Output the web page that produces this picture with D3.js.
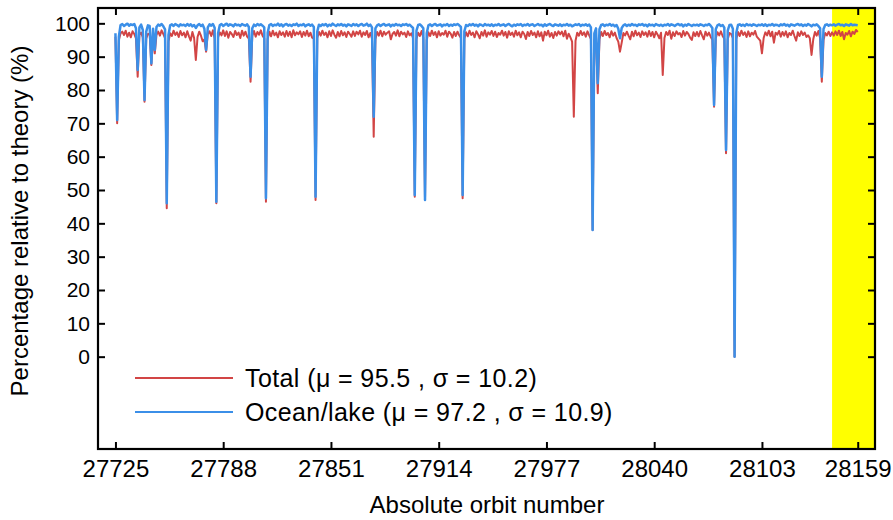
<!DOCTYPE html>
<html>
<head>
<meta charset="utf-8">
<script src="https://cdn.jsdelivr.net/npm/d3@7"></script>
<style>
  html, body { margin: 0; padding: 0; background: #fff; }
  svg { display: block; font-family: "Liberation Sans", Arial, Helvetica, sans-serif; }
</style>
</head>
<body>
<svg id="chart" width="893" height="520"></svg>
<script>
// ---------- data ----------
const orbitStart = 27725;
const xTickValues = [27725, 27788, 27851, 27914, 27977, 28040, 28103, 28159];
const yTickValues = [0, 10, 20, 30, 40, 50, 60, 70, 80, 90, 100];
const highlightStart = 28144;
const seriesNames = ["Total (\u03bc = 95.5 , \u03c3 = 10.2)", "Ocean/lake (\u03bc = 97.2 , \u03c3 = 10.9)"];

const totalValues = [
  96, 70, 95, 97, 97.5, 96.5, 97.8, 96, 97.2, 95.8, 97.6, 96.8, 95.5, 84, 96.5, 97.2, 95.8, 76.5, 95.5, 96.8,
  96.9, 87.5, 96.2, 91, 96.6, 97.5, 96.3, 97.9, 96.8, 95.6, 44.5, 94.5, 97, 96.2, 97.8, 96.5, 97.3, 95.9, 97.7, 96.4,
  97.2, 95.8, 97.6, 96.1, 94.8, 97.4, 95.6, 89, 95.9, 97.5, 96.3, 94.6, 95.2, 91.5, 96.8, 97.6, 96.2, 97.9, 95.4, 46,
  95.8, 97.3, 96.4, 97.9, 96.2, 97.6, 95.7, 97.4, 96.8, 95.9, 97.7, 96.5, 97.2, 95.6, 97.8, 96.3, 97.5, 96, 95.4, 82.5,
  96.2, 97.7, 96, 97.4, 96.6, 97.9, 96.3, 95.5, 46.5, 95.2, 97.5, 96.1, 97.8, 96.4, 97.2, 95.8, 97.6, 96.5, 97.3, 96,
  97.7, 96.2, 97.5, 95.8, 97.9, 96.4, 97.3, 96.7, 97.6, 95.9, 97.4, 96.3, 97.8, 96.1, 97.2, 95.7, 95.4, 47, 95.6, 97.4,
  96.3, 97.8, 96.5, 97.2, 95.8, 97.6, 96.2, 97.9, 96.6, 95.7, 97.4, 96.1, 97.7, 96.4, 97.3, 95.9, 97.5, 96.8, 96, 97.6,
  96.2, 97.5, 96.7, 97.8, 96, 97.3, 96.5, 97.7, 95.8, 97.1, 95.5, 66, 95.2, 97.4, 96.3, 97.8, 96.1, 97.5, 96.6, 97.2,
  97.6, 95.2, 96.8, 97.4, 96.3, 97.9, 96.1, 97.5, 96.7, 97.2, 95.9, 97.6, 96.4, 97, 95.6, 48, 95.3, 97.2, 96.2, 97.7,
  95.7, 47, 95, 97.3, 96.2, 97.8, 96.5, 97.4, 95.8, 97.6, 96.3, 97.1, 96.6, 97.8, 96, 97.5, 96.9, 95.7, 97.4, 96.2,
  97.5, 96.4, 95.6, 47.5, 95.4, 97.3, 96.1, 97.8, 96.5, 97.2, 95.8, 97.6, 96.7, 95.5, 97.4, 96.3, 97.9, 96, 97.3, 96.6,
  97.7, 96.2, 97.5, 95.9, 97.1, 96.6, 97.8, 96.3, 97.4, 95.7, 97.6, 96.5, 97.2, 96, 97.8, 96.4, 97.3, 95.8, 97.5, 96.8,
  95.3, 97.4, 96.2, 97.7, 96.5, 97.2, 95.8, 97.6, 96.1, 97.3, 94.8, 97.5, 96.4, 97.8, 96, 97.1, 95.6, 97.4, 96.3, 97.6,
  96.7, 97.5, 96.1, 97.8, 95.4, 96.9, 95.8, 94.5, 72, 94.8, 97.2, 96.3, 97.7, 96.5, 97.3, 96, 97.6, 96.4, 95.3, 38,
  95, 96, 79, 95.2, 97.4, 96.2, 97.7, 96.5, 97.1, 95.8, 97.6, 96.3, 97.2, 95.6, 94.5, 91.5, 94.2, 97.1, 96.4, 97.5,
  96.3, 95.2, 97.5, 96.1, 97.8, 96.4, 97.2, 95.9, 97.6, 96.5, 97.3, 96, 97.7, 96.2, 97.4, 95.8, 97.5, 96.6, 95.5, 97.2,
  84.5, 95.6, 97.4, 96.5, 97.8, 95.4, 97.3, 96.2, 97.6, 96.7, 97.1, 95.9, 97.7, 96.3, 97.4, 96.8, 95.7, 95, 97.3, 96.2,
  97.4, 96.1, 97.7, 96.4, 95.2, 97.5, 96.3, 97.2, 96, 95.1, 75, 95.5, 97.3, 96.4, 97.6, 96.2, 95.4, 61, 95.2, 97.1,
  96.8, 95.6, 0, 95.3, 97.4, 96.2, 97.8, 96.5, 97.3, 95.9, 97.6, 96.1, 97.2, 96.6, 97.7, 96, 95.4, 94.8, 91, 95.6,
  97.3, 96.4, 97.8, 96.1, 97.5, 94.2, 97.2, 96.6, 97.7, 96, 97.4, 96.3, 97.6, 95.8, 97.1, 96.5, 97.8, 96.2, 94.8, 97.3,
  96.2, 97.6, 96.5, 97.2, 95.9, 96.4, 95.5, 90.5, 95.2, 97.4, 96.3, 97.7, 95.6, 82.5, 95, 97.1, 96.4, 97.5, 96.2, 97.3,
  96.3, 97.6, 96.5, 97.8, 96.2, 97.4, 95.2, 97.1, 96.6, 97.7, 96.1, 97.5, 96.8, 98, 97.4
];

const oceanValues = [
  97, 71, 96, 99.5, 99.8, 99.2, 99.6, 99.9, 99.3, 99.7, 99.5, 99.8, 98.5, 86, 98.8, 99.6, 98, 77, 97.5, 99.4,
  99.2, 88, 98.4, 92, 98.9, 99.6, 99.3, 99.8, 99.1, 98.2, 46, 96.5, 99.4, 99.7, 99.2, 99.8, 99.5, 99.1, 99.7, 99.4,
  99.6, 99.2, 99.8, 99.3, 99.7, 99.1, 99.5, 98.6, 99.4, 99.8, 99.2, 99.6, 98.4, 92, 98.8, 99.7, 99.3, 99.8, 98.7, 46.5,
  97, 99.4, 99.8, 99.2, 99.6, 99.9, 99.3, 99.7, 99.5, 99.1, 99.8, 99.4, 99.6, 99.2, 99.8, 99.5, 99.3, 99.7, 98.9, 84,
  98.5, 99.6, 99.2, 99.8, 99.4, 99.7, 99.3, 98.8, 47.5, 97.2, 99.5, 99.8, 99.2, 99.6, 99.4, 99.9, 99.3, 99.7, 99.1, 99.6,
  99.8, 99.3, 99.6, 99.2, 99.7, 99.5, 99.9, 99.2, 99.6, 99.4, 99.8, 99.1, 99.5, 99.7, 99.3, 99.6, 98.9, 48, 97.5, 99.6,
  99.2, 99.7, 99.4, 99.8, 99.1, 99.6, 99.3, 99.9, 99.5, 99.2, 99.7, 99.4, 99.8, 99.3, 99.6, 99.1, 99.7, 99.5, 99.2, 99.8,
  99.4, 99.7, 99.2, 99.6, 99.8, 99.3, 99.5, 99.9, 99.2, 99.6, 98.8, 72, 98.5, 99.4, 99.7, 99.2, 99.6, 99.8, 99.3, 99.5,
  99.7, 99.1, 99.6, 99.3, 99.8, 99.4, 99.6, 99.2, 99.7, 99.5, 99.8, 99.3, 99.6, 99.1, 98.6, 48.5, 97.8, 99.5, 99.7, 99.2,
  98.5, 47, 97, 99.4, 99.7, 99.2, 99.6, 99.8, 99.3, 99.5, 99.7, 99.1, 99.6, 99.4, 99.8, 99.2, 99.6, 99.3, 99.7, 99.5,
  99.8, 99.4, 98.9, 48.5, 97.6, 99.5, 99.2, 99.7, 99.4, 99.8, 99.3, 99.6, 99.1, 99.7, 99.5, 99.2, 99.8, 99.4, 99.6, 99.3,
  99.7, 99.2, 99.6, 99.4, 99.8, 99.3, 99.5, 99.7, 99.2, 99.6, 99.8, 99.4, 99.1, 99.6, 99.3, 99.7, 99.5, 99.8, 99.2, 99.6,
  99.4, 99.8, 99.3, 99.6, 99.7, 99.2, 99.5, 99.8, 99.4, 99.6, 99.1, 99.7, 99.3, 99.6, 99.8, 99.4, 99.2, 99.7, 99.5, 99.3,
  99.7, 99.2, 99.6, 99.4, 99.8, 99.3, 99.6, 99.1, 99.4, 99.7, 99.5, 99.8, 99.2, 99.6, 99.4, 99.7, 99.3, 99.6, 98.8, 38,
  97, 98.5, 82, 98.2, 99.5, 99.7, 99.2, 99.6, 99.4, 99.8, 99.3, 99.6, 99.1, 99.5, 98.4, 95.5, 98.6, 99.4, 99.7, 99.2,
  99.6, 99.3, 99.8, 99.4, 99.6, 99.2, 99.7, 99.5, 99.8, 99.3, 99.6, 99.1, 99.7, 99.4, 99.6, 99.2, 99.8, 99.5, 99.3, 99.6,
  99.2, 99.6, 99.4, 99.8, 99.3, 99.7, 99.5, 99.2, 99.6, 99.8, 99.4, 99.7, 99.1, 99.6, 99.3, 99.8, 99.5, 99.2, 99.6, 99.4,
  99.6, 99.3, 99.7, 99.5, 99.2, 99.6, 99.4, 99.8, 99.3, 98.6, 75.5, 98.2, 99.4, 99.7, 99.2, 99.5, 98.7, 62, 97.8, 99.5,
  99.6, 98.4, 0, 97.2, 99.5, 99.7, 99.3, 99.6, 99.2, 99.8, 99.4, 99.6, 99.3, 99.7, 99.5, 99.2, 99.6, 99.4, 99.7, 99.3,
  99.7, 99.2, 99.6, 99.4, 99.8, 99.3, 99.6, 99.5, 99.2, 99.7, 99.4, 99.8, 99.3, 99.6, 99.1, 99.7, 99.5, 99.3, 99.6, 99.8,
  99.4, 99.7, 99.2, 99.6, 99.3, 99.8, 99.5, 99.1, 99.6, 99.4, 99.7, 99.2, 98.5, 84, 98.3, 99.5, 99.7, 99.3, 99.6, 99.4,
  99.7, 99.3, 99.6, 99.8, 99.4, 99.6, 99.2, 99.7, 99.5, 99.3, 99.8, 99.4, 99.6, 99.5, 99.4
];

// ---------- layout ----------
const svg = d3.select("#chart");
const pLeft = 98, pRight = 875, pTop = 8, pBottom = 449;

const x = d3.scaleLinear().domain([27714.8, 28169.1]).range([pLeft, pRight]);
const y = d3.scaleLinear().domain([-27.7, 104.6]).range([pBottom, pTop]);

const red = "#d24545", blue = "#3b8fe8";
const yTickFont = 21, xTickFont = 24, titleFont = 24, legendFont = 25;

// highlight band
svg.append("rect")
  .attr("x", x(highlightStart)).attr("y", pTop)
  .attr("width", pRight - x(highlightStart)).attr("height", pBottom - pTop)
  .attr("fill", "#ffff00");

const line = d3.line()
  .x((d, i) => x(orbitStart + i))
  .y(d => y(d));

svg.append("path").datum(totalValues)
  .attr("d", line).attr("fill", "none")
  .attr("stroke", red).attr("stroke-width", 2).attr("stroke-linejoin", "round");

svg.append("path").datum(oceanValues)
  .attr("d", line).attr("fill", "none")
  .attr("stroke", blue).attr("stroke-width", 2.5).attr("stroke-linejoin", "round");

// axes
const tickLen = 7;
const xBottom = svg.append("g").attr("transform", `translate(0,${pBottom})`)
  .call(d3.axisBottom(x).tickValues(xTickValues).tickFormat(d3.format("d")).tickSizeInner(-tickLen).tickSizeOuter(0).tickPadding(11));
const xTop = svg.append("g").attr("transform", `translate(0,${pTop})`)
  .call(d3.axisTop(x).tickValues(xTickValues).tickFormat("").tickSizeInner(-tickLen).tickSizeOuter(0));
const yLeft = svg.append("g").attr("transform", `translate(${pLeft},0)`)
  .call(d3.axisLeft(y).tickValues(yTickValues).tickFormat(d3.format("d")).tickSizeInner(-tickLen).tickSizeOuter(0).tickPadding(8));
const yRight = svg.append("g").attr("transform", `translate(${pRight},0)`)
  .call(d3.axisRight(y).tickValues(yTickValues).tickFormat("").tickSizeInner(-tickLen).tickSizeOuter(0));

[xBottom, xTop, yLeft, yRight].forEach(g => {
  g.select(".domain").remove();
  g.selectAll(".tick line").attr("stroke", "#000").attr("stroke-width", 2);
  g.selectAll(".tick text").attr("fill", "#000")
    .attr("font-family", "'Liberation Sans', Arial, sans-serif");
});
xBottom.selectAll(".tick text").attr("font-size", xTickFont);
yLeft.selectAll(".tick text").attr("font-size", yTickFont);

// frame
svg.append("rect")
  .attr("x", pLeft).attr("y", pTop).attr("width", pRight - pLeft).attr("height", pBottom - pTop)
  .attr("fill", "none").attr("stroke", "#000").attr("stroke-width", 2.2);

// axis titles
svg.append("text")
  .attr("x", 487).attr("y", 513)
  .attr("text-anchor", "middle").attr("font-size", titleFont)
  .text("Absolute orbit number");

svg.append("text")
  .attr("transform", `translate(28,221) rotate(-90)`)
  .attr("text-anchor", "middle").attr("font-size", titleFont)
  .text("Percentage relative to theory (%)");

// legend
const legend = svg.append("g");
const legendColors = [red, blue];
const legendY = [378, 412];
seriesNames.forEach((name, i) => {
  legend.append("line")
    .attr("x1", 135).attr("x2", 233).attr("y1", legendY[i]).attr("y2", legendY[i])
    .attr("stroke", legendColors[i]).attr("stroke-width", 2);
  legend.append("text")
    .attr("x", 245).attr("y", legendY[i]).attr("dy", "0.35em")
    .attr("font-size", legendFont).attr("letter-spacing", 0.4).text(name);
});
</script>
</body>
</html>
